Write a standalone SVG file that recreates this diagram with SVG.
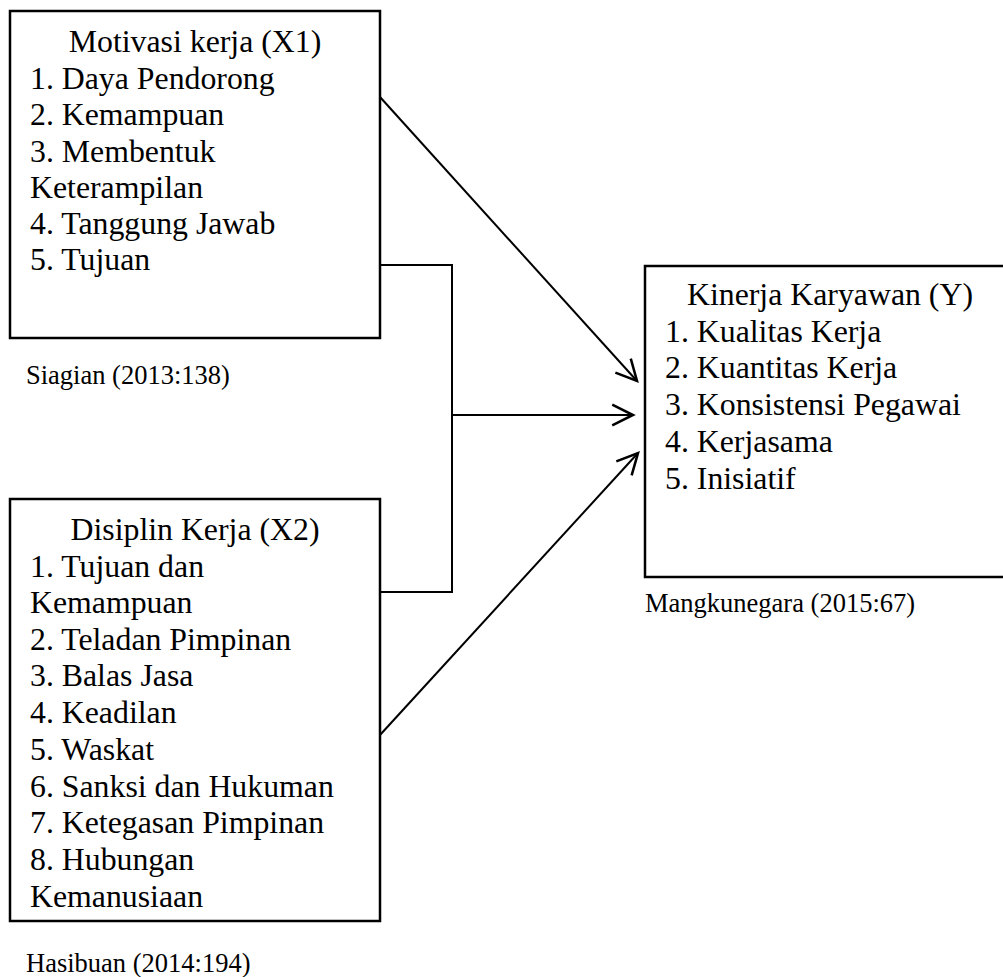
<svg xmlns="http://www.w3.org/2000/svg" width="1003" height="977" viewBox="0 0 1003 977">
<style>
.box{fill:#fff;stroke:#000;stroke-width:2.5}
.t{font-family:"Liberation Serif","Times New Roman",serif;font-size:31.8px;fill:#000}
.c{font-family:"Liberation Serif","Times New Roman",serif;font-size:26.5px;fill:#000}
.ln{fill:none;stroke:#000;stroke-width:2}
</style>
<defs>
<marker id="ah" markerUnits="userSpaceOnUse" markerWidth="30" markerHeight="30" viewBox="-22 -12 26 24" refX="0" refY="0" orient="auto">
<path d="M-18,-9 L0,0 L-18,9" fill="none" stroke="#000" stroke-width="2.2"/>
</marker>
</defs>
<rect width="1003" height="977" fill="#fff"/>
<g id="connectors">
<polyline class="ln" points="380,265 452,265 452,592 380,592"/>
<line class="ln" x1="452" y1="415" x2="633" y2="415" marker-end="url(#ah)"/>
<line class="ln" x1="380" y1="97" x2="637" y2="381" marker-end="url(#ah)"/>
<line class="ln" x1="380" y1="735" x2="638" y2="453" marker-end="url(#ah)"/>
</g>
<g id="x1">
<rect class="box" x="10" y="11" width="370" height="327"/>
<text class="t" x="195" y="52" text-anchor="middle">Motivasi kerja (X1)</text>
<text class="t" x="30" y="88.5">1. Daya Pendorong</text>
<text class="t" x="30" y="125">2. Kemampuan</text>
<text class="t" x="30" y="161.5">3. Membentuk</text>
<text class="t" x="30" y="198">Keterampilan</text>
<text class="t" x="30" y="234">4. Tanggung Jawab</text>
<text class="t" x="30" y="270">5. Tujuan</text>
</g>
<g id="cap1"><text class="c" x="26" y="384">Siagian (2013:138)</text></g>
<g id="x2">
<rect class="box" x="10" y="499" width="370" height="422"/>
<text class="t" x="195" y="540" text-anchor="middle">Disiplin Kerja (X2)</text>
<text class="t" x="30" y="576.5">1. Tujuan dan</text>
<text class="t" x="30" y="613">Kemampuan</text>
<text class="t" x="30" y="649.5">2. Teladan Pimpinan</text>
<text class="t" x="30" y="686">3. Balas Jasa</text>
<text class="t" x="30" y="723">4. Keadilan</text>
<text class="t" x="30" y="760">5. Waskat</text>
<text class="t" x="30" y="796.5">6. Sanksi dan Hukuman</text>
<text class="t" x="30" y="833">7. Ketegasan Pimpinan</text>
<text class="t" x="30" y="870">8. Hubungan</text>
<text class="t" x="30" y="906.5">Kemanusiaan</text>
</g>
<g id="cap2"><text class="c" x="26" y="971.5">Hasibuan (2014:194)</text></g>
<g id="y">
<rect class="box" x="645" y="266" width="370" height="311"/>
<text class="t" x="830" y="305" text-anchor="middle">Kinerja Karyawan (Y)</text>
<text class="t" x="665" y="341.5">1. Kualitas Kerja</text>
<text class="t" x="665" y="378">2. Kuantitas Kerja</text>
<text class="t" x="665" y="415">3. Konsistensi Pegawai</text>
<text class="t" x="665" y="451.5">4. Kerjasama</text>
<text class="t" x="665" y="489">5. Inisiatif</text>
</g>
<g id="cap3"><text class="c" x="645" y="611.5">Mangkunegara (2015:67)</text></g>
</svg>
